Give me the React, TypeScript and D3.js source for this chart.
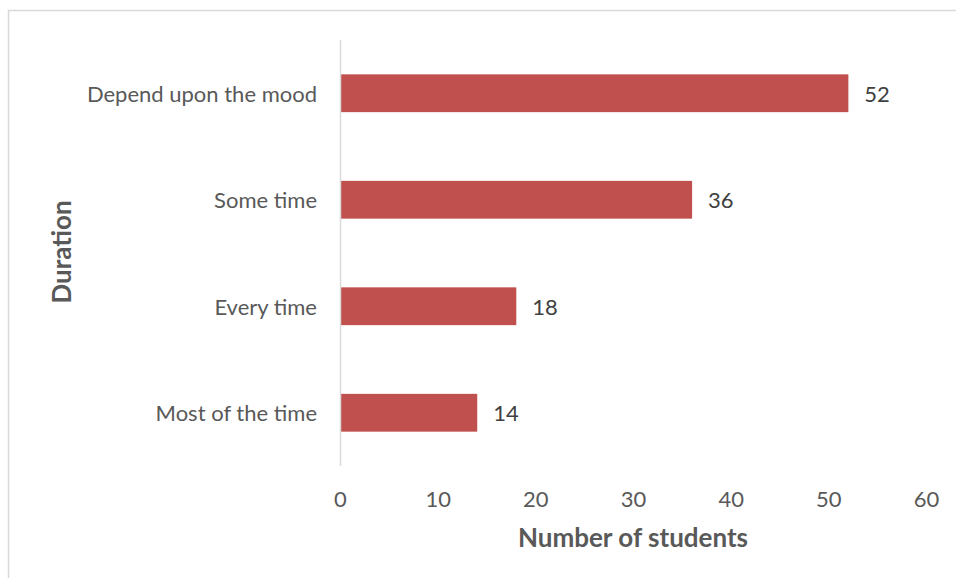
import React from "react";
import * as d3 from "d3";

const categories = ["Depend upon the mood", "Some time", "Every time", "Most of the time"];
const students = [52, 36, 18, 14];
const xTicks = [0, 10, 20, 30, 40, 50, 60];

const W = 956;
const H = 578;
const FONT = "Lato, 'Open Sans', sans-serif";

export default function App() {
  const x = d3.scaleLinear().domain([0, 60]).range([340.5, 926.5]);
  const y = d3.scaleBand<string>().domain(categories).range([40, 466]).paddingInner(0.645).paddingOuter(0.3225);

  return (
    <div style={{ position: "absolute", left: 0, top: 0 }}>
      <svg width={W} height={H} style={{ display: "block", background: "#fff" }}>
        {/* chart frame */}
        <rect x={8.5} y={10.5} width={W} height={H} fill="none" stroke="#d9d9d9" strokeWidth={1.5} />

        {/* bars */}
        {categories.map((c, i) => (
          <rect
            key={c}
            x={x(0)}
            y={y(c)}
            width={x(students[i]) - x(0)}
            height={y.bandwidth()}
            fill="#C0504D"
          />
        ))}

        {/* category axis line */}
        <line x1={x(0)} x2={x(0)} y1={40} y2={466} stroke="#d9d9d9" strokeWidth={1.5} />

        {/* category labels */}
        {categories.map((c) => (
          <text
            key={c}
            x={317}
            y={(y(c) ?? 0) + y.bandwidth() / 2}
            textAnchor="end"
            dominantBaseline="central"
            fontFamily={FONT}
            fontSize={22}
            fill="#595959"
          >
            {c}
          </text>
        ))}

        {/* value labels */}
        {categories.map((c, i) => (
          <text
            key={c}
            x={x(students[i]) + 16}
            y={(y(c) ?? 0) + y.bandwidth() / 2}
            dominantBaseline="central"
            fontFamily={FONT}
            fontSize={22}
            fill="#404040"
          >
            {students[i]}
          </text>
        ))}

        {/* value axis tick labels */}
        {xTicks.map((t) => (
          <text
            key={t}
            x={x(t)}
            y={498}
            textAnchor="middle"
            dominantBaseline="central"
            fontFamily={FONT}
            fontSize={22}
            fill="#595959"
          >
            {t}
          </text>
        ))}

        {/* axis titles */}
        <text
          x={633}
          y={537}
          textAnchor="middle"
          dominantBaseline="central"
          fontFamily={FONT}
          fontSize={26}
          fontWeight="bold"
          fill="#595959"
        >
          Number of students
        </text>
        <text
          transform="translate(61,252) rotate(-90)"
          textAnchor="middle"
          dominantBaseline="central"
          fontFamily={FONT}
          fontSize={26}
          fontWeight="bold"
          fill="#595959"
        >
          Duration
        </text>
      </svg>
    </div>
  );
}
